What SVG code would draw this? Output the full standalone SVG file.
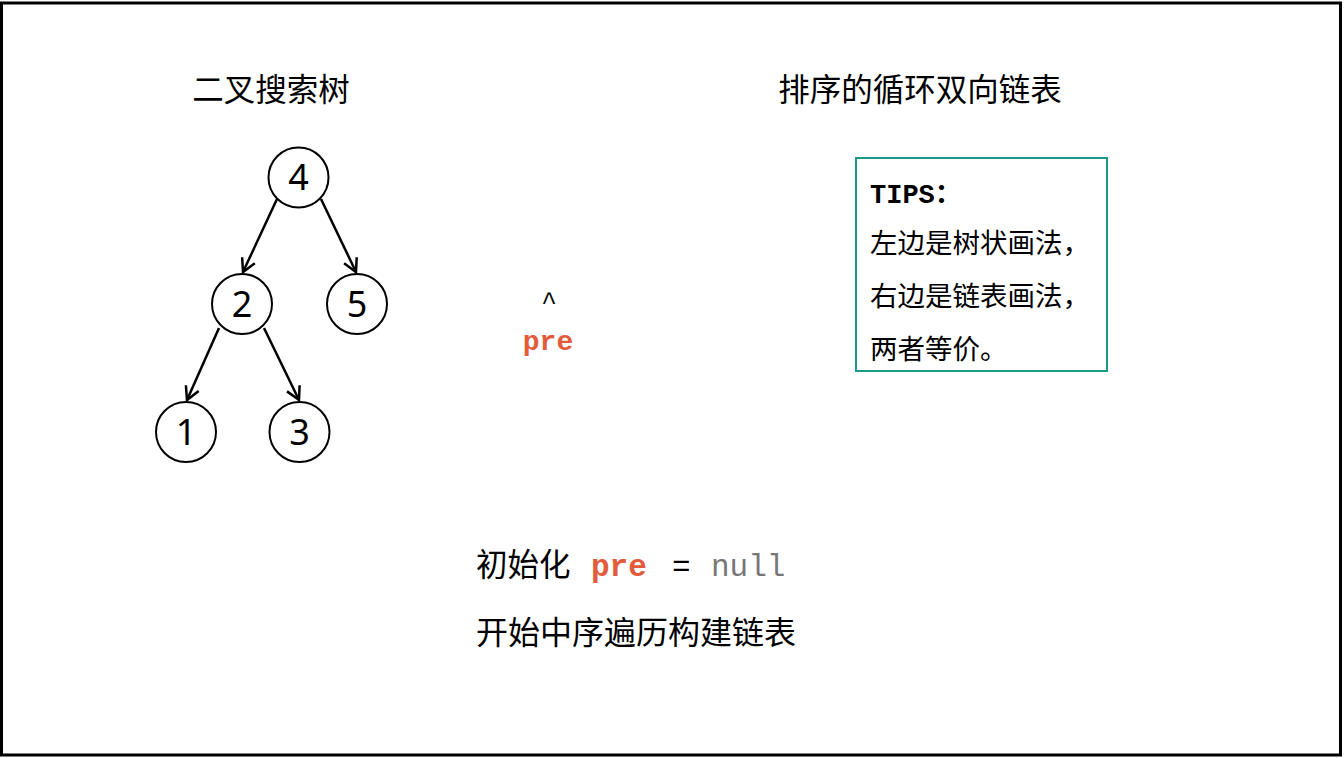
<svg xmlns="http://www.w3.org/2000/svg" width="1344" height="758" viewBox="0 0 1344 758">
<style>
.cjk{font-family:"Noto Sans CJK SC","Noto Sans",sans-serif;fill:#000}
.node circle{fill:#fff;stroke:#000;stroke-width:2}
.node text{font-family:"Noto Sans","DejaVu Sans",sans-serif;font-size:36px;text-anchor:middle;fill:#000}
.edge{stroke:#000;stroke-width:2.5;fill:none;marker-end:url(#arr)}
.mono{font-family:"Liberation Mono","DejaVu Sans Mono",monospace}
.pre{fill:#e35b3b;font-weight:bold}
</style>
<defs>
<marker id="arr" markerUnits="userSpaceOnUse" markerWidth="18" markerHeight="18" refX="14" refY="8" orient="auto" viewBox="0 0 18 16">
<path d="M1,1 L14,8 L1,15" fill="none" stroke="#000" stroke-width="2.5" stroke-linejoin="miter"/>
</marker>
</defs>
<rect x="0" y="0" width="1344" height="758" fill="#fff"/>
<rect x="1.5" y="3" width="1339" height="752" fill="none" stroke="#000" stroke-width="3"/>
<text class="cjk" x="271" y="101" font-size="31.5" text-anchor="middle">二叉搜索树</text>
<text class="cjk" x="920" y="101" font-size="31.5" text-anchor="middle">排序的循环双向链表</text>
<g id="connectors">
<line class="edge" x1="277" y1="199" x2="243" y2="272"/>
<line class="edge" x1="321" y1="199" x2="356" y2="272"/>
<line class="edge" x1="219" y1="328" x2="187" y2="400"/>
<line class="edge" x1="264" y1="328" x2="299" y2="400"/>
</g>
<g id="node4" class="node"><circle cx="298.5" cy="177.5" r="30"/><text x="298.5" y="190">4</text></g>
<g id="node2" class="node"><circle cx="242" cy="304" r="30"/><text x="242" y="316.5">2</text></g>
<g id="node5" class="node"><circle cx="357" cy="304" r="30"/><text x="357" y="316.5">5</text></g>
<g id="node1" class="node"><circle cx="186" cy="432" r="30"/><text x="186" y="444.5">1</text></g>
<g id="node3" class="node"><circle cx="299.5" cy="432" r="30"/><text x="299.5" y="444.5">3</text></g>
<g id="tips">
<rect x="856" y="158" width="251" height="213" fill="#fff" stroke="#1a9988" stroke-width="2"/>
<text x="870" y="203" font-size="27" font-weight="bold"><tspan class="mono">TIPS</tspan><tspan class="cjk">：</tspan></text>
<text class="cjk" x="870" y="253" font-size="27.5">左边是树状画法，</text>
<text class="cjk" x="870" y="306" font-size="27.5">右边是链表画法，</text>
<text class="cjk" x="870" y="359" font-size="27.5">两者等价。</text>
</g>
<g id="pre-pointer">
<text class="mono" x="549" y="310" font-size="26" text-anchor="middle">^</text>
<text class="mono pre" x="548" y="350" font-size="28" text-anchor="middle">pre</text>
</g>
<text class="cjk" x="476" y="576" font-size="31.5">初始化</text>
<text class="mono pre" x="591" y="576" font-size="31">pre</text>
<text class="mono" x="672" y="576" font-size="31">=</text>
<text class="mono" x="711" y="576" font-size="31" fill="#777">null</text>
<text class="cjk" x="476" y="644" font-size="32">开始中序遍历构建链表</text>
</svg>
